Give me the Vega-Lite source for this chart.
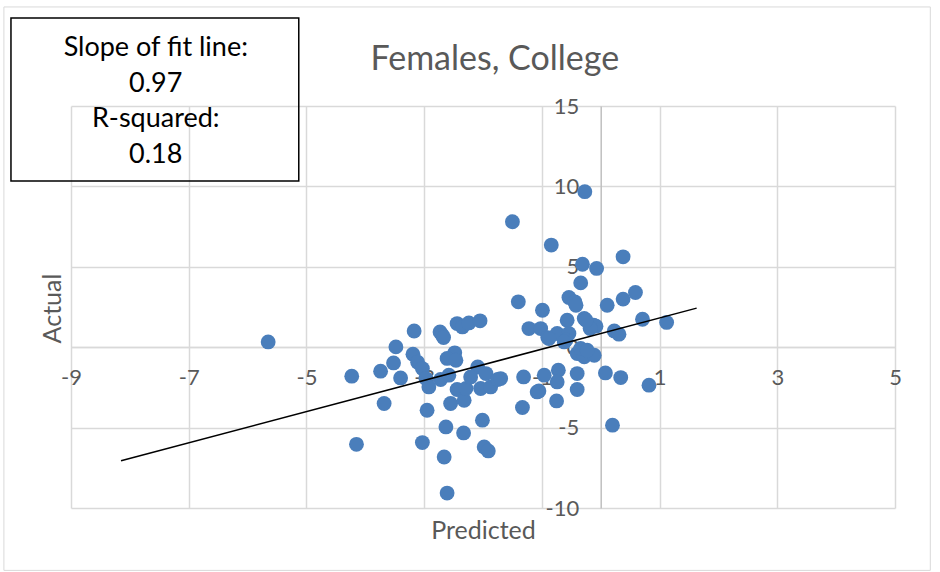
{
  "$schema": "https://vega.github.io/schema/vega-lite/v6.json",
  "width": 824,
  "height": 402,
  "autosize": "none",
  "padding": {"left": 71, "top": 106, "right": 45, "bottom": 64},
  "background": "white",
  "config": {
    "font": "Lato",
    "view": {"stroke": null},
    "locale": {"number": {"decimal": ".", "thousands": ",", "grouping": [3], "currency": ["$", ""], "minus": "-"}}
  },
  "datasets": {
    "points": [
      {"predicted": -5.65, "actual": 0.33},
      {"predicted": -4.23, "actual": -1.8},
      {"predicted": -3.74, "actual": -1.49},
      {"predicted": -3.52, "actual": -0.98},
      {"predicted": -3.48, "actual": 0.02},
      {"predicted": -3.4, "actual": -1.91},
      {"predicted": -3.68, "actual": -3.5},
      {"predicted": -4.15, "actual": -6.04},
      {"predicted": -3.17, "actual": 1.01},
      {"predicted": -3.19, "actual": -0.44},
      {"predicted": -3.11, "actual": -0.93},
      {"predicted": -3.03, "actual": -1.33},
      {"predicted": -2.97, "actual": -1.95},
      {"predicted": -2.92, "actual": -2.47},
      {"predicted": -2.95, "actual": -3.92},
      {"predicted": -3.03, "actual": -5.93},
      {"predicted": -2.73, "actual": 0.95},
      {"predicted": -2.69, "actual": 0.75},
      {"predicted": -2.67, "actual": 0.6},
      {"predicted": -2.44, "actual": 1.47},
      {"predicted": -2.35, "actual": 1.26},
      {"predicted": -2.24, "actual": 1.51},
      {"predicted": -2.05, "actual": 1.64},
      {"predicted": -2.48, "actual": -0.35},
      {"predicted": -2.61, "actual": -0.7},
      {"predicted": -2.46, "actual": -0.81},
      {"predicted": -2.72, "actual": -2.01},
      {"predicted": -2.58, "actual": -1.74},
      {"predicted": -2.55, "actual": -3.5},
      {"predicted": -2.44, "actual": -2.63},
      {"predicted": -2.32, "actual": -3.3},
      {"predicted": -2.29, "actual": -2.57},
      {"predicted": -2.09, "actual": -1.23},
      {"predicted": -1.95, "actual": -1.64},
      {"predicted": -2.04, "actual": -2.57},
      {"predicted": -1.87, "actual": -2.47},
      {"predicted": -1.75, "actual": -2.01},
      {"predicted": -2.21, "actual": -1.85},
      {"predicted": -2.63, "actual": -4.96},
      {"predicted": -2.33, "actual": -5.33},
      {"predicted": -2.66, "actual": -6.83},
      {"predicted": -2.01, "actual": -4.54},
      {"predicted": -1.98, "actual": -6.2},
      {"predicted": -1.91, "actual": -6.45},
      {"predicted": -2.61, "actual": -9.07},
      {"predicted": -1.4, "actual": 2.82},
      {"predicted": -1.22, "actual": 1.16},
      {"predicted": -1.31, "actual": -1.85},
      {"predicted": -1.33, "actual": -3.75},
      {"predicted": -1.08, "actual": -2.78},
      {"predicted": -0.99, "actual": 2.3},
      {"predicted": -1.02, "actual": 1.16},
      {"predicted": -0.57, "actual": 1.68},
      {"predicted": -0.28, "actual": 1.79},
      {"predicted": -0.12, "actual": 1.37},
      {"predicted": -0.9, "actual": 0.6},
      {"predicted": -0.74, "actual": 0.85},
      {"predicted": -0.54, "actual": 0.85},
      {"predicted": -0.4, "actual": -0.39},
      {"predicted": -0.28, "actual": -0.6},
      {"predicted": -0.11, "actual": -0.5},
      {"predicted": -0.96, "actual": -1.74},
      {"predicted": -0.72, "actual": -1.43},
      {"predicted": -0.74, "actual": -2.16},
      {"predicted": -0.4, "actual": -1.64},
      {"predicted": -0.4, "actual": -2.63},
      {"predicted": -1.05, "actual": -2.72},
      {"predicted": -0.75, "actual": -3.34},
      {"predicted": 0.08, "actual": -1.6},
      {"predicted": 0.34, "actual": -1.89},
      {"predicted": 0.2, "actual": -4.85},
      {"predicted": -0.59, "actual": 0.44},
      {"predicted": -0.27, "actual": 9.67},
      {"predicted": -1.5, "actual": 7.8},
      {"predicted": -0.84, "actual": 6.35},
      {"predicted": -0.31, "actual": 5.16},
      {"predicted": -0.07, "actual": 4.9},
      {"predicted": 0.38, "actual": 5.62},
      {"predicted": -0.34, "actual": 4.0},
      {"predicted": -0.54, "actual": 3.09},
      {"predicted": -0.44, "actual": 2.82},
      {"predicted": -0.42, "actual": 2.61},
      {"predicted": 0.11, "actual": 2.61},
      {"predicted": 0.38, "actual": 2.99},
      {"predicted": 0.59, "actual": 3.4},
      {"predicted": 0.71, "actual": 1.74},
      {"predicted": 1.12, "actual": 1.54},
      {"predicted": -0.08, "actual": 1.31},
      {"predicted": -0.18, "actual": 1.16},
      {"predicted": 0.23, "actual": 1.01},
      {"predicted": 0.31, "actual": 0.81},
      {"predicted": -0.62, "actual": 0.33},
      {"predicted": -0.34, "actual": -0.08},
      {"predicted": -0.23, "actual": -0.19},
      {"predicted": 0.82, "actual": -2.36},
      {"predicted": -0.25, "actual": 1.68},
      {"predicted": -1.7, "actual": -1.95},
      {"predicted": -0.88, "actual": 0.54}
    ],
    "fit": [
      {"predicted": -8.15, "actual": -7.06},
      {"predicted": 1.63, "actual": 2.43}
    ]
  },
  "layer": [
    {
      "data": {"name": "points"},
      "mark": {"type": "circle", "size": 220, "color": "#4A7EBB", "opacity": 1},
      "encoding": {
        "x": {
          "field": "predicted",
          "type": "quantitative",
          "scale": {"domain": [-9, 5], "nice": false, "zero": false},
          "axis": {
            "values": [-9, -7, -5, -3, -1, 1, 3, 5],
            "format": "d",
            "title": "Predicted",
            "offset": -161,
            "ticks": false,
            "tickSize": 0,
            "domain": true,
            "domainColor": "#d9d9d9",
            "domainWidth": 1.5,
            "grid": true,
            "gridColor": "#d9d9d9",
            "gridWidth": 1.5,
            "labelFontSize": 22,
            "labelColor": "#595959",
            "labelPadding": 20,
            "labelFlush": false,
            "titleFontSize": 25,
            "titleColor": "#595959",
            "titleFontWeight": "normal",
            "titleX": 412,
            "titleY": 183,
            "titleBaseline": "middle"
          }
        },
        "y": {
          "field": "actual",
          "type": "quantitative",
          "scale": {"domain": [-10, 15], "nice": false, "zero": false},
          "axis": {
            "values": [-10, -5, 0, 5, 10, 15],
            "format": "d",
            "title": "Actual",
            "offset": -529.7,
            "ticks": false,
            "tickSize": 0,
            "domain": true,
            "domainColor": "#bfbfbf",
            "domainWidth": 1.5,
            "grid": true,
            "gridColor": "#d9d9d9",
            "gridWidth": 1.5,
            "labelFontSize": 22,
            "labelColor": "#595959",
            "labelPadding": 22,
            "labelFlush": false,
            "titleFontSize": 25,
            "titleColor": "#595959",
            "titleFontWeight": "normal",
            "titleX": -548.7,
            "titleY": 202,
            "titleAngle": -90,
            "titleBaseline": "middle"
          }
        }
      }
    },
    {
      "data": {"name": "fit"},
      "mark": {"type": "line", "color": "black", "strokeWidth": 1.5},
      "encoding": {
        "x": {"field": "predicted", "type": "quantitative"},
        "y": {"field": "actual", "type": "quantitative"}
      }
    },
    {
      "data": {"values": [{}]},
      "mark": {"type": "rect", "fill": null, "fillOpacity": 0, "stroke": "#d9d9d9", "strokeWidth": 1, "clip": false},
      "encoding": {
        "x": {"datum": -10.14, "type": "quantitative"},
        "x2": {"datum": 5.6},
        "y": {"datum": 21.16, "type": "quantitative"},
        "y2": {"datum": -13.88}
      }
    },
    {
      "data": {"values": [{}]},
      "mark": {"type": "rect", "fill": null, "fillOpacity": 0, "stroke": "black", "strokeWidth": 1.5, "clip": false},
      "encoding": {
        "x": {"datum": -10.02, "type": "quantitative"},
        "x2": {"datum": -5.13},
        "y": {"datum": 20.47, "type": "quantitative"},
        "y2": {"datum": 10.33}
      }
    },
    {
      "data": {"values": [{}]},
      "mark": {
        "type": "text",
        "text": ["Slope of fit line:", "0.97", "R-squared:", "0.18"],
        "fontSize": 27,
        "lineHeight": 35.7,
        "align": "center",
        "baseline": "middle",
        "color": "black",
        "clip": false
      },
      "encoding": {
        "x": {"datum": -7.56, "type": "quantitative"},
        "y": {"datum": 18.61, "type": "quantitative"}
      }
    },
    {
      "data": {"values": [{}]},
      "mark": {
        "type": "text",
        "text": "Females, College",
        "fontSize": 34,
        "align": "center",
        "baseline": "middle",
        "color": "#595959",
        "clip": false
      },
      "encoding": {
        "x": {"datum": -1.8, "type": "quantitative"},
        "y": {"datum": 17.86, "type": "quantitative"}
      }
    }
  ]
}
